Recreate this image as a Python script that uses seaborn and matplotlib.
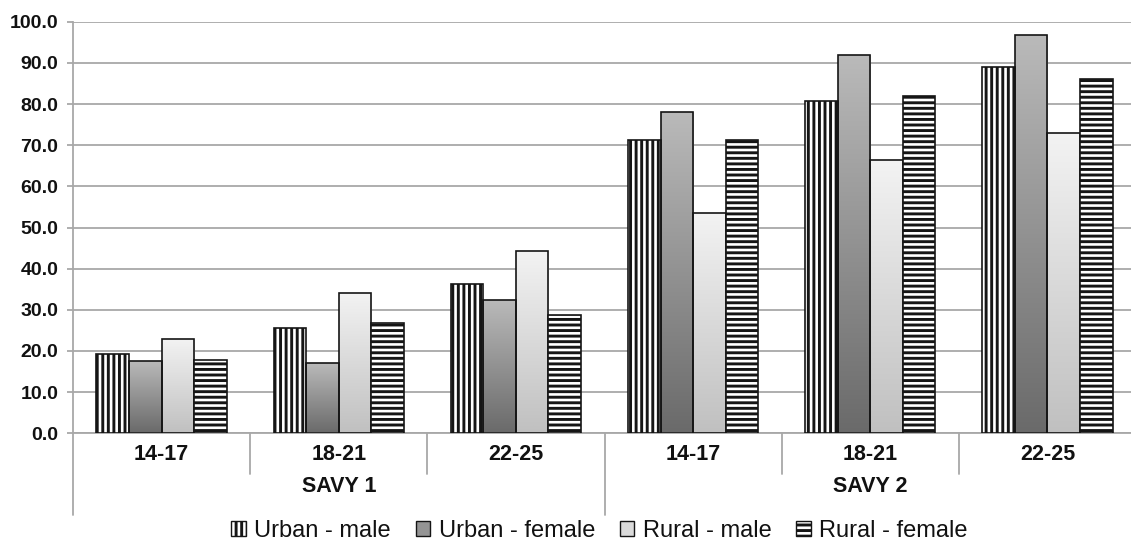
import numpy as np
import pandas as pd
import matplotlib
matplotlib.use("Agg")
import matplotlib.pyplot as plt
import seaborn as sns
from matplotlib.patches import Patch
from matplotlib.lines import Line2D
from matplotlib.colors import LinearSegmentedColormap
import matplotlib.transforms as mtransforms

# ---- data -------------------------------------------------------------
surveys = ["SAVY 1", "SAVY 2"]
age_groups = ["14-17", "18-21", "22-25"]
series = ["Urban - male", "Urban - female", "Rural - male", "Rural - female"]

urban_male = [19.2, 25.7, 36.3, 71.3, 80.8, 89.1]
urban_female = [17.6, 17.0, 32.4, 78.1, 92.0, 96.8]
rural_male = [22.9, 34.2, 44.4, 53.6, 66.3, 72.9]
rural_female = [17.7, 26.9, 28.7, 71.3, 81.9, 86.0]

y_ticks = [0, 10, 20, 30, 40, 50, 60, 70, 80, 90, 100]

# ---- long table for seaborn ------------------------------------------
slots = [f"{s} {a}" for s in surveys for a in age_groups]
values = {"Urban - male": urban_male, "Urban - female": urban_female,
          "Rural - male": rural_male, "Rural - female": rural_female}
rows = []
for name in series:
    for slot, v in zip(slots, values[name]):
        rows.append({"slot": slot, "series": name, "value": v})
df = pd.DataFrame(rows)

sns.set_theme(style="white")
plt.rcParams["font.family"] = ["Liberation Sans", "DejaVu Sans"]
plt.rcParams["hatch.linewidth"] = 2.1
plt.rcParams["hatch.color"] = "#151515"

W, H = 1131, 546
fig = plt.figure(figsize=(W / 100, H / 100), dpi=100)
ax_left, ax_right, ax_top, ax_bottom = 73, 1136, 21.7, 433.3
ax = fig.add_axes([ax_left / W, 1 - ax_bottom / H,
                   (ax_right - ax_left) / W, (ax_bottom - ax_top) / H])

sns.barplot(data=df, x="slot", y="value", hue="series", order=slots,
            hue_order=series, width=0.735, gap=0, errorbar=None,
            legend=False, saturation=1, edgecolor="#151515",
            linewidth=1.2, ax=ax, zorder=3)

grad_uf = LinearSegmentedColormap.from_list("uf", ["#6a6a6a", "#bababa"])
grad_rm = LinearSegmentedColormap.from_list("rm", ["#c0c0c0", "#f3f3f3"])
ramp = np.linspace(0, 1, 256).reshape(-1, 1)

styles = {"Urban - male": ("hatch", "|||"), "Urban - female": ("grad", grad_uf),
          "Rural - male": ("grad", grad_rm), "Rural - female": ("hatch", "---")}

for name, container in zip(series, ax.containers):
    kind, spec = styles[name]
    for bar in container:
        if kind == "hatch":
            bar.set_facecolor("white")
            bar.set_hatch(spec)
        else:
            bar.set_facecolor("none")
            x0, w, h = bar.get_x(), bar.get_width(), bar.get_height()
            im = ax.imshow(ramp, extent=[x0, x0 + w, 0, h], origin="lower",
                           cmap=spec, aspect="auto", zorder=2.5,
                           interpolation="bilinear")
            im.set_clip_path(bar)

ax.set_xlim(-0.5, 5.5)
ax.set_ylim(0, 100)
ax.set_aspect("auto")

# ---- axes styling ----------------------------------------------------
grid_c = "#a8a8a8"
ax.set_axisbelow(True)
ax.yaxis.grid(True, color=grid_c, linewidth=1.3)
ax.xaxis.grid(False)
for side in ["top", "right"]:
    ax.spines[side].set_visible(False)
ax.spines["left"].set_color(grid_c)
ax.spines["left"].set_linewidth(1.3)
ax.spines["bottom"].set_color(grid_c)
ax.spines["bottom"].set_linewidth(1.3)

ax.set_yticks(y_ticks, labels=[f"{t:.1f}" for t in y_ticks])
ax.tick_params(axis="y", length=4.5, width=1.3, color=grid_c, pad=6,
               labelsize=14, labelcolor="#111111", left=True)
for lbl in ax.get_yticklabels():
    lbl.set_fontweight("bold")

ax.set_xticks(range(len(slots)), labels=age_groups * len(surveys))
ax.tick_params(axis="x", length=0, pad=8, labelsize=15.5, labelcolor="#111111")
for lbl in ax.get_xticklabels():
    lbl.set_fontweight("bold")
ax.set_xlabel("")
ax.set_ylabel("")

# category separators below the axis
trans = mtransforms.blended_transform_factory(ax.transData, ax.transAxes)
short_drop = -(474 - ax_bottom) / (ax_bottom - ax_top)
long_drop = -(515 - ax_bottom) / (ax_bottom - ax_top)
for xs in [0.5, 1.5, 3.5, 4.5]:
    ax.add_line(Line2D([xs, xs], [0, short_drop], transform=trans,
                       color=grid_c, lw=1.3, clip_on=False))
for xs in [-0.5, 2.5]:
    ax.add_line(Line2D([xs, xs], [0, long_drop], transform=trans,
                       color=grid_c, lw=1.3, clip_on=False))

survey_y = -(487 - ax_bottom) / (ax_bottom - ax_top)
for i, s in enumerate(surveys):
    ax.text(i * 3 + 1, survey_y, s, transform=trans, ha="center", va="center",
            fontsize=15.5, fontweight="bold", color="#111111")

# ---- legend ----------------------------------------------------------
handles = [
    Patch(facecolor="white", edgecolor="#151515", hatch="|||", lw=1.0),
    Patch(facecolor="#949494", edgecolor="#151515", lw=1.0),
    Patch(facecolor="#dadada", edgecolor="#151515", lw=1.0),
    Patch(facecolor="white", edgecolor="#151515", hatch="---", lw=1.0),
]
fig.legend(handles, series, loc="center", bbox_to_anchor=(0.53, 1 - 531 / H),
           ncol=4, frameon=False, fontsize=17, handlelength=0.62,
           handleheight=0.62, handletextpad=0.35, columnspacing=1.05,
           labelcolor="#111111")

fig.savefig("out.png", dpi=100, facecolor="white")
